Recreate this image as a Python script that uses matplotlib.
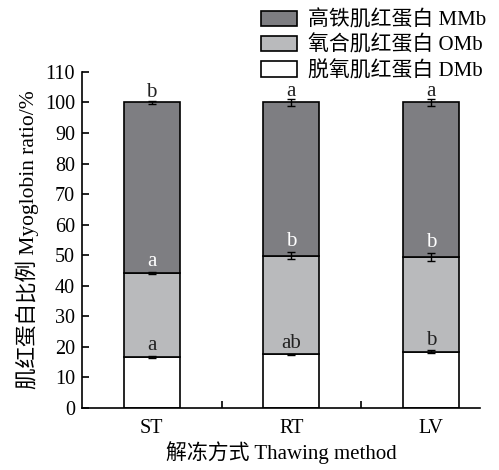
import matplotlib
matplotlib.use("Agg")
import matplotlib.pyplot as plt
import numpy as np

plt.rcParams['font.family'] = ['Liberation Serif', 'Noto Sans CJK SC']
plt.rcParams['font.size'] = 14.5

groups = ["ST", "RT", "LV"]
dmb = [16.7, 17.5, 18.4]
omb = [27.6, 32.4, 31.0]
mmb = [55.7, 50.1, 50.6]
dmb_err = [0.4, 0.3, 0.5]
omb_err = [0.3, 1.2, 1.3]
mmb_err = [0.6, 1.0, 1.0]
dmb_sig = ["a", "ab", "b"]
omb_sig = ["a", "b", "b"]
mmb_sig = ["b", "a", "a"]

c_mmb = "#7e7e82"
c_omb = "#b9babc"
c_dmb = "#ffffff"

fig = plt.figure(figsize=(4.99, 4.70), dpi=100)
ax = fig.add_axes([0.164, 0.132, 0.798, 0.715])

x = np.arange(1, len(groups) + 1)
w = 0.4
b1 = ax.bar(x, dmb, w, color=c_dmb, edgecolor="black", linewidth=1.2, label="脱氧肌红蛋白 DMb")
b2 = ax.bar(x, omb, w, bottom=dmb, color=c_omb, edgecolor="black", linewidth=1.2, label="氧合肌红蛋白 OMb")
bot2 = np.array(dmb) + np.array(omb)
b3 = ax.bar(x, mmb, w, bottom=bot2, color=c_mmb, edgecolor="black", linewidth=1.2, label="高铁肌红蛋白 MMb")
top = bot2 + np.array(mmb)

ekw = dict(fmt="none", ecolor="black", elinewidth=1, capsize=3, capthick=1)
ax.errorbar(x, dmb, yerr=dmb_err, **ekw)
ax.errorbar(x, bot2, yerr=omb_err, **ekw)
ax.errorbar(x, top, yerr=mmb_err, **ekw)

for i in range(len(groups)):
    ax.text(x[i], dmb[i] + dmb_err[i] + 0.2, dmb_sig[i], ha="center", va="bottom", color="#222222", fontsize=15)
    ax.text(x[i], bot2[i] + omb_err[i] + 0.2, omb_sig[i], ha="center", va="bottom", color="white", fontsize=15)
    ax.text(x[i], top[i] + mmb_err[i] - 0.4, mmb_sig[i], ha="center", va="bottom", color="#222222", fontsize=15)

ax.set_xlim(0.5, 3.35)
ax.set_ylim(0, 110)
ax.set_yticks(np.arange(0, 111, 10))
ax.set_xticks(x)
ax.set_xticklabels(groups)
ax.set_xticks([1.5, 2.5], minor=True)
ax.tick_params(axis="x", which="major", length=0, pad=8)
ax.tick_params(axis="x", which="minor", direction="in", length=5, width=1.2)
ax.tick_params(axis="y", direction="in", length=5, width=1.2, pad=5)
for s in ["top", "right"]:
    ax.spines[s].set_visible(False)
for s in ["left", "bottom"]:
    ax.spines[s].set_linewidth(1.2)

ax.set_ylabel("肌红蛋白比例 Myoglobin ratio/%", fontsize=15.5, labelpad=4)
ax.set_xlabel("解冻方式 Thawing method", fontsize=15, labelpad=2)

fig.legend(handles=[b3, b2, b1], loc="upper right", bbox_to_anchor=(1.0, 1.005),
           frameon=False, fontsize=15, handlelength=1.7, handleheight=0.75,
           labelspacing=0.25, handletextpad=0.55, borderaxespad=0.2)

fig.savefig("out.png", dpi=100)
